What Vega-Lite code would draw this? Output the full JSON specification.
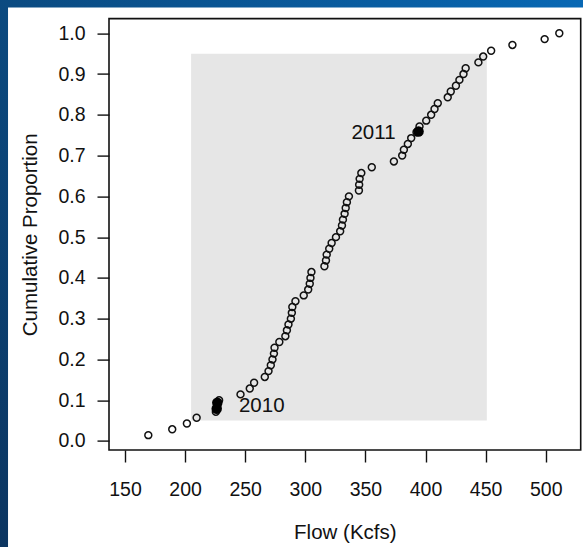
{
  "$schema": "https://vega.github.io/schema/vega-lite/v6.json",
  "width": 471.7,
  "height": 431.4,
  "autosize": {"type": "none"},
  "padding": {"left": 109, "top": 18.6, "right": 2.3, "bottom": 97},
  "background": "#ffffff",
  "config": {
    "view": {"stroke": "#111111", "strokeWidth": 1.6},
    "font": "Liberation Sans",
    "axis": {
      "domain": false,
      "grid": false,
      "tickColor": "#111111",
      "tickWidth": 1.4,
      "tickSize": 12,
      "labelFont": "Liberation Sans",
      "labelFontSize": 19.5,
      "labelColor": "#111111",
      "titleFont": "Liberation Sans",
      "titleFontSize": 20.5,
      "titleFontWeight": "normal",
      "titleColor": "#111111"
    }
  },
  "datasets": {
    "pts": [
      {"flow": 169.4, "p": 0.0143}, {"flow": 189.3, "p": 0.0286}, {"flow": 201.5, "p": 0.0429}, {"flow": 209.6, "p": 0.0571},
      {"flow": 225.6, "p": 0.0714}, {"flow": 226.8, "p": 0.0857}, {"flow": 228.3, "p": 0.1}, {"flow": 246.1, "p": 0.1143},
      {"flow": 253.8, "p": 0.1286}, {"flow": 257.4, "p": 0.1429}, {"flow": 266.3, "p": 0.1571}, {"flow": 269.4, "p": 0.1714},
      {"flow": 271.3, "p": 0.1857}, {"flow": 272.7, "p": 0.2}, {"flow": 273.9, "p": 0.2143}, {"flow": 274.4, "p": 0.2286},
      {"flow": 278.4, "p": 0.2429}, {"flow": 283.4, "p": 0.2571}, {"flow": 284.7, "p": 0.2714}, {"flow": 286.0, "p": 0.2857},
      {"flow": 288.0, "p": 0.3}, {"flow": 288.8, "p": 0.3143}, {"flow": 289.2, "p": 0.3286}, {"flow": 291.8, "p": 0.3429},
      {"flow": 298.7, "p": 0.3571}, {"flow": 302.4, "p": 0.3714}, {"flow": 303.7, "p": 0.3857}, {"flow": 304.3, "p": 0.4},
      {"flow": 305.1, "p": 0.4143}, {"flow": 315.9, "p": 0.4286}, {"flow": 317.2, "p": 0.4429}, {"flow": 317.8, "p": 0.4571},
      {"flow": 319.9, "p": 0.4714}, {"flow": 321.9, "p": 0.4857}, {"flow": 325.5, "p": 0.5}, {"flow": 329.0, "p": 0.5143},
      {"flow": 330.5, "p": 0.5286}, {"flow": 331.3, "p": 0.5429}, {"flow": 332.7, "p": 0.5571}, {"flow": 333.6, "p": 0.5714},
      {"flow": 334.6, "p": 0.5857}, {"flow": 336.3, "p": 0.6}, {"flow": 344.6, "p": 0.6143}, {"flow": 344.8, "p": 0.6286},
      {"flow": 345.2, "p": 0.6429}, {"flow": 346.6, "p": 0.6571}, {"flow": 355.3, "p": 0.6714}, {"flow": 373.7, "p": 0.6857},
      {"flow": 380.6, "p": 0.7}, {"flow": 382.0, "p": 0.7143}, {"flow": 385.3, "p": 0.7286}, {"flow": 388.1, "p": 0.7429},
      {"flow": 392.5, "p": 0.7571}, {"flow": 395.0, "p": 0.7714}, {"flow": 400.6, "p": 0.7857}, {"flow": 404.7, "p": 0.8},
      {"flow": 407.5, "p": 0.8143}, {"flow": 410.2, "p": 0.8286}, {"flow": 418.5, "p": 0.8429}, {"flow": 421.0, "p": 0.8571},
      {"flow": 425.3, "p": 0.8714}, {"flow": 428.2, "p": 0.8857}, {"flow": 431.6, "p": 0.9}, {"flow": 433.4, "p": 0.9143},
      {"flow": 444.0, "p": 0.9286}, {"flow": 448.0, "p": 0.9429}, {"flow": 454.6, "p": 0.9571}, {"flow": 472.3, "p": 0.9714},
      {"flow": 499.1, "p": 0.9857}, {"flow": 511.3, "p": 1.0}
    ],
    "band": [{"lo": 205, "hi": 451, "plo": 0.05, "phi": 0.95}],
    "hl": [
      {"year": "2010", "flow": 226.3, "p": 0.079},
      {"year": "2010", "flow": 226.8, "p": 0.094},
      {"year": "2011", "flow": 394.2, "p": 0.759}
    ],
    "lab": [
      {"label": "2010", "flow": 226.5, "p": 0.086},
      {"label": "2011", "flow": 394.2, "p": 0.759}
    ]
  },
  "layer": [
    {
      "data": {"name": "band"},
      "mark": {"type": "rect", "color": "#e6e6e6"},
      "encoding": {
        "x": {"field": "lo", "type": "quantitative",
          "scale": {"domain": [136.7, 529.1], "nice": false, "zero": false},
          "axis": {"values": [150, 200, 250, 300, 350, 400, 450, 500], "title": "Flow (Kcfs)", "labelPadding": 18, "titlePadding": 24}},
        "x2": {"field": "hi"},
        "y": {"field": "plo", "type": "quantitative",
          "scale": {"domain": [-0.0221, 1.036], "nice": false, "zero": false},
          "axis": {"values": [0, 0.1, 0.2, 0.3, 0.4, 0.5, 0.6, 0.7, 0.8, 0.9, 1.0], "format": ".1f", "title": "Cumulative Proportion", "labelPadding": 12, "titlePadding": 17}},
        "y2": {"field": "phi"}
      }
    },
    {
      "data": {"values": [{}]},
      "mark": {"type": "rect", "clip": false, "color": {"gradient": "linear", "x1": 0, "y1": 0, "x2": 0, "y2": 1, "stops": [{"offset": 0, "color": "#0b4a80"}, {"offset": 1, "color": "#0c3560"}]}},
      "encoding": {
        "x": {"datum": 45.0, "type": "quantitative"},
        "x2": {"datum": 52.7},
        "y": {"datum": 1.085, "type": "quantitative"},
        "y2": {"datum": -0.28}
      }
    },
    {
      "data": {"values": [{}]},
      "mark": {"type": "rect", "clip": false, "color": {"gradient": "linear", "x1": 0, "y1": 0, "x2": 1, "y2": 0, "stops": [{"offset": 0, "color": "#0b4a80"}, {"offset": 1, "color": "#0868b4"}]}},
      "encoding": {
        "x": {"datum": 45.0, "type": "quantitative"},
        "x2": {"datum": 532},
        "y": {"datum": 1.085, "type": "quantitative"},
        "y2": {"datum": 1.0632}
      }
    },
    {
      "data": {"name": "pts"},
      "mark": {"type": "point", "shape": "circle", "filled": false, "stroke": "#111111", "strokeWidth": 1.5, "size": 48, "opacity": 1},
      "encoding": {
        "x": {"field": "flow", "type": "quantitative"},
        "y": {"field": "p", "type": "quantitative"}
      }
    },
    {
      "data": {"name": "hl"},
      "mark": {"type": "point", "shape": "circle", "filled": true, "color": "#000000", "size": 110, "opacity": 1},
      "encoding": {
        "x": {"field": "flow", "type": "quantitative"},
        "y": {"field": "p", "type": "quantitative"}
      }
    },
    {
      "data": {"name": "lab"},
      "transform": [{"filter": "datum.label == '2010'"}],
      "mark": {"type": "text", "align": "left", "baseline": "middle", "dx": 22, "fontSize": 20.5, "font": "Liberation Sans", "color": "#111111"},
      "encoding": {
        "x": {"field": "flow", "type": "quantitative"},
        "y": {"field": "p", "type": "quantitative"},
        "text": {"field": "label"}
      }
    },
    {
      "data": {"name": "lab"},
      "transform": [{"filter": "datum.label == '2011'"}],
      "mark": {"type": "text", "align": "right", "baseline": "middle", "dx": -23, "dy": 1, "fontSize": 20.5, "font": "Liberation Sans", "color": "#111111"},
      "encoding": {
        "x": {"field": "flow", "type": "quantitative"},
        "y": {"field": "p", "type": "quantitative"},
        "text": {"field": "label"}
      }
    }
  ]
}
